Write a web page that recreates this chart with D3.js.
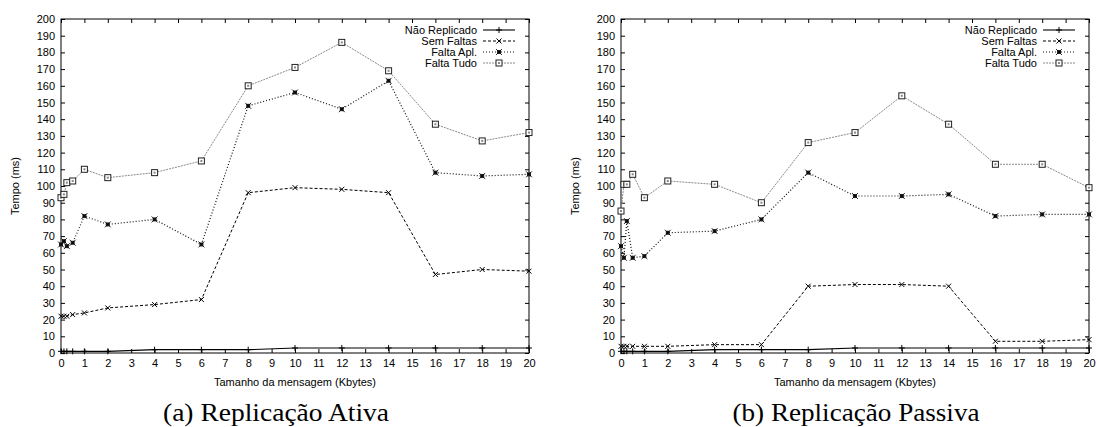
<!DOCTYPE html>
<html>
<head>
<meta charset="utf-8">
<script src="https://cdn.jsdelivr.net/npm/d3@7"></script>
<style>
  body { margin: 0; background: #fff; }
  svg { display: block; }
</style>
</head>
<body>
<svg id="chart" width="1097" height="427"></svg>
<script>
// message sizes (Kbytes)
const sizes = [0, 0.125, 0.25, 0.5, 1, 2, 4, 6, 8, 10, 12, 14, 16, 18, 20];
const seriesNames = ["Não Replicado", "Sem Faltas", "Falta Apl.", "Falta Tudo"];

// (a) active replication
const naoA  = [1, 1, 1, 1, 1, 1, 2, 2, 2, 3, 3, 3, 3, 3, 3];
const semA  = [22, 22, 22, 23, 24, 27, 29, 32, 96, 99, 98, 96, 47, 50, 49];
const aplA  = [65, 67, 64, 66, 82, 77, 80, 65, 148, 156, 146, 163, 108, 106, 107];
const tudoA = [93, 95, 102, 103, 110, 105, 108, 115, 160, 171, 186, 169, 137, 127, 132];

// (b) passive replication
const naoB  = [1, 1, 1, 1, 1, 1, 2, 2, 2, 3, 3, 3, 3, 3, 3];
const semB  = [4, 4, 4, 4, 4, 4, 5, 5, 40, 41, 41, 40, 7, 7, 8];
const aplB  = [64, 57, 79, 57, 58, 72, 73, 80, 108, 94, 94, 95, 82, 83, 83];
const tudoB = [85, 101, 101, 107, 93, 103, 101, 90, 126, 132, 154, 137, 113, 113, 99];

const xTicks = d3.range(0, 21, 1);
const yTicks = d3.range(0, 201, 10);

const styles = [
  { stroke: "#000", dash: null,    width: 1.1, marker: "plus" },
  { stroke: "#000", dash: "3,2",   width: 1,   marker: "cross" },
  { stroke: "#111", dash: "1,2",   width: 1.2, marker: "star" },
  { stroke: "#8a8a8a", dash: "2,1", width: 1,  marker: "square" }
];

const svg = d3.select("#chart");
const font = "'Liberation Sans', Arial, sans-serif";

function drawMarker(g, type, x, y) {
  if (type === "plus") {
    g.append("path").attr("d", `M${x - 3},${y}H${x + 3}M${x},${y - 3}V${y + 3}`)
      .attr("stroke", "#000").attr("stroke-width", 1);
  } else if (type === "cross") {
    g.append("path").attr("d", `M${x - 2.5},${y - 2.5}L${x + 2.5},${y + 2.5}M${x - 2.5},${y + 2.5}L${x + 2.5},${y - 2.5}`)
      .attr("stroke", "#000").attr("stroke-width", 1);
  } else if (type === "star") {
    g.append("rect").attr("x", x - 2).attr("y", y - 2).attr("width", 4).attr("height", 4)
      .attr("fill", "#222");
    g.append("path").attr("d", `M${x - 3},${y - 3}L${x + 3},${y + 3}M${x - 3},${y + 3}L${x + 3},${y - 3}`)
      .attr("stroke", "#000").attr("stroke-width", 0.8);
  } else {
    g.append("rect").attr("x", x - 3).attr("y", y - 3).attr("width", 6).attr("height", 6)
      .attr("fill", "#fff").attr("stroke", "#222").attr("stroke-width", 1);
    g.append("rect").attr("x", x - 1).attr("y", y - 1).attr("width", 2).attr("height", 2)
      .attr("fill", "#888");
  }
}

function drawPanel(left, right, captionX, captionW, caption, data) {
  const top = 19, bottom = 353;
  const x = d3.scaleLinear().domain([0, 20]).range([left, right]);
  const y = d3.scaleLinear().domain([0, 200]).range([bottom, top]);
  const g = svg.append("g");

  // mirrored inward ticks, gnuplot style
  const axes = [
    [d3.axisBottom(x).tickValues(xTicks).tickFormat(d3.format("d")), `translate(0,${bottom})`],
    [d3.axisTop(x).tickValues(xTicks).tickFormat(""), `translate(0,${top})`],
    [d3.axisLeft(y).tickValues(yTicks).tickFormat(d3.format("d")), `translate(${left},0)`],
    [d3.axisRight(y).tickValues(yTicks).tickFormat(""), `translate(${right},0)`]
  ];
  axes.forEach(([ax, tr]) => {
    const a = g.append("g").attr("transform", tr)
      .call(ax.tickSize(-4).tickPadding(6));
    a.select(".domain").remove();
    a.selectAll("line").attr("stroke", "#000");
    a.selectAll("text").attr("font-family", font).attr("font-size", 11).attr("fill", "#000");
  });

  g.append("rect").attr("x", left).attr("y", top)
    .attr("width", right - left).attr("height", bottom - top)
    .attr("fill", "none").attr("stroke", "#000").attr("stroke-width", 1);

  const line = d3.line().x((d, i) => x(sizes[i])).y(d => y(d));
  data.forEach((vals, k) => {
    const s = styles[k];
    g.append("path").datum(vals).attr("d", line)
      .attr("fill", "none").attr("stroke", s.stroke)
      .attr("stroke-width", s.width)
      .attr("stroke-dasharray", s.dash);
    vals.forEach((v, i) => drawMarker(g, s.marker, x(sizes[i]), y(v)));
  });

  // legend
  seriesNames.forEach((name, k) => {
    const s = styles[k];
    const ly = top + 11 + k * 11;
    g.append("text").attr("x", right - 52).attr("y", ly).attr("dy", "0.35em")
      .attr("text-anchor", "end").attr("font-family", font).attr("font-size", 11)
      .text(name);
    g.append("line").attr("x1", right - 46).attr("x2", right - 14)
      .attr("y1", ly).attr("y2", ly)
      .attr("stroke", s.stroke).attr("stroke-width", s.width)
      .attr("stroke-dasharray", s.dash);
    drawMarker(g, s.marker, right - 30, ly);
  });

  g.append("text").attr("transform", `translate(${left - 46},${(top + bottom) / 2}) rotate(-90)`)
    .attr("text-anchor", "middle").attr("dy", "0.35em")
    .attr("font-family", font).attr("font-size", 11).text("Tempo (ms)");

  g.append("text").attr("x", (left + right) / 2).attr("y", 382).attr("dy", "0.35em")
    .attr("text-anchor", "middle").attr("font-family", font).attr("font-size", 11)
    .text("Tamanho da mensagem (Kbytes)");

  g.append("text").attr("x", captionX - captionW / 2).attr("y", 421)
    .attr("font-family", "'Liberation Serif', 'Times New Roman', serif")
    .attr("font-size", 26)
    .attr("textLength", captionW).attr("lengthAdjust", "spacingAndGlyphs")
    .text(caption);
}

drawPanel(61, 529, 276, 226, "(a) Replicação Ativa", [naoA, semA, aplA, tudoA]);
drawPanel(621, 1089, 856, 247, "(b) Replicação Passiva", [naoB, semB, aplB, tudoB]);
</script>
</body>
</html>
